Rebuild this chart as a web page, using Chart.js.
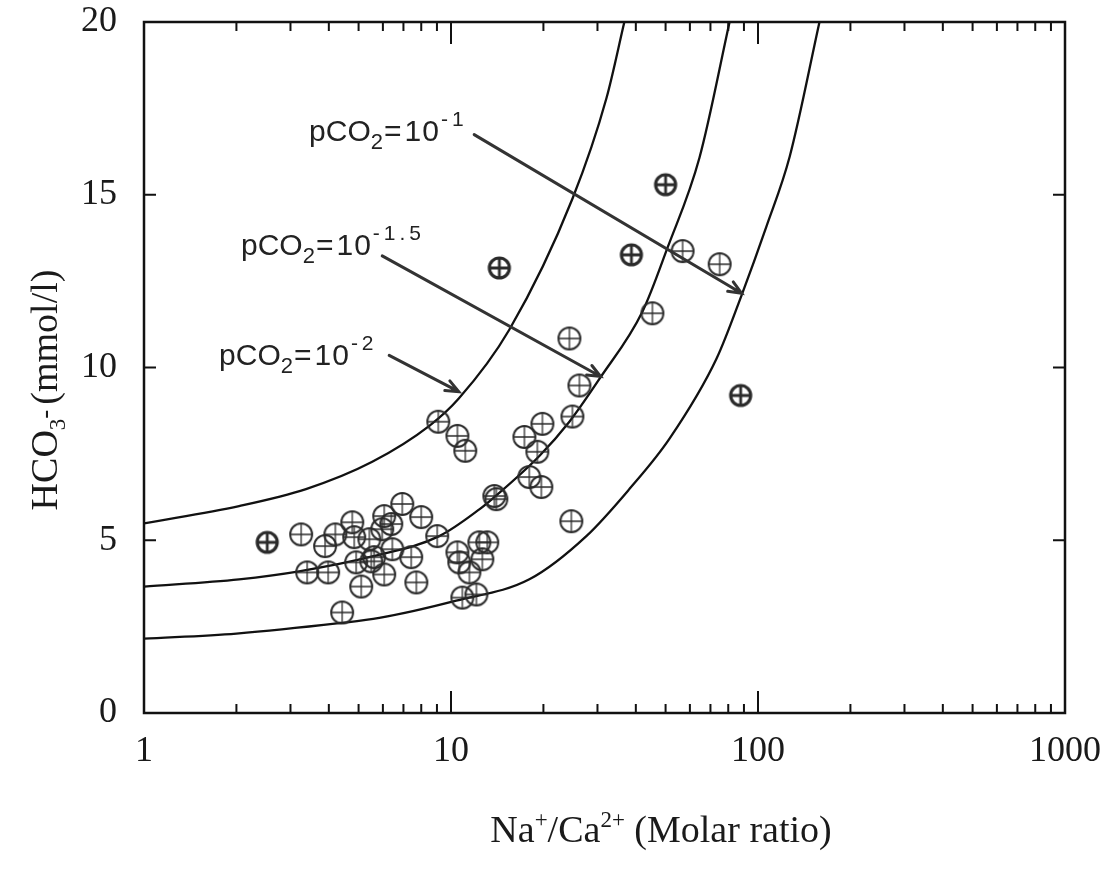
<!DOCTYPE html>
<html>
<head>
<meta charset="utf-8">
<script src="https://cdn.jsdelivr.net/npm/chart.js@4.4.1/dist/chart.umd.min.js"></script>
<style>
  body { margin: 0; background: #fff; }
  canvas { display: block; }
</style>
</head>
<body>
<canvas id="naCaChart" width="1109" height="874"></canvas>
<script>
// samples: Na/Ca molar ratio and HCO3 (mmol/l)
const sampleRatio = [3.25, 3.40, 3.89, 4.20, 3.98, 4.77, 4.84, 4.91, 5.10, 5.42, 5.50, 5.62, 5.97, 6.06,
    6.39, 6.94, 6.44, 6.06, 7.42, 7.71, 8.00, 9.02, 4.42, 9.09, 10.49, 11.13, 10.49, 10.64, 11.48,
    10.89, 12.10, 12.37, 13.13, 12.65, 13.84, 14.05, 17.34, 19.85, 19.11, 17.99, 19.69, 24.86,
    24.66, 24.31, 26.2, 45.3, 56.8, 75.0];
const sampleHco3 = [5.17, 4.07, 4.83, 5.17, 4.07, 5.52, 5.09, 4.36, 3.66, 5.03, 4.39, 4.51, 5.32, 5.70,
    5.47, 6.05, 4.74, 4.01, 4.51, 3.78, 5.67, 5.12, 2.91, 8.43, 8.02, 7.59, 4.65, 4.36, 4.07,
    3.34, 3.43, 4.94, 4.94, 4.45, 6.28, 6.19, 7.99, 8.37, 7.56, 6.83, 6.54, 8.58,
    5.55, 10.84, 9.48, 11.57, 13.37, 12.99];

// samples drawn with the heavier marker
const boldRatio = [2.52, 14.37, 38.7, 50.0, 87.8];
const boldHco3 = [4.94, 12.88, 13.26, 15.29, 9.19];

// calcite equilibrium curves
const curveA_ratio = [1, 2.04, 3.37, 5.54, 8.5, 10.6, 15.5, 24.9, 32.1, 36.7];   // pCO2 = 10^-2
const curveA_hco3 = [5.49, 5.99, 6.48, 7.27, 8.31, 9.1, 11.1, 14.9, 17.8, 20];
const curveB_ratio = [1, 2.04, 3.2, 5.54, 9.16, 12.4, 13.6, 19.4, 24.3, 30.5, 42.1, 50.7, 64.5, 80.8];  // pCO2 = 10^-1.5
const curveB_hco3 = [3.66, 3.87, 4.1, 4.53, 5.12, 5.9, 6.19, 7.44, 8.43, 9.68, 11.63, 13.46, 16.08, 20];
const curveC_ratio = [1, 2, 4.32, 5.84, 10.4, 18, 27.6, 38.1, 51.5, 73.3, 88.4, 106.7, 126.8, 158.6];  // pCO2 = 10^-1
const curveC_hco3 = [2.15, 2.3, 2.6, 2.75, 3.25, 3.87, 5.12, 6.48, 7.94, 10.26, 12.09, 14.1, 16.1, 20];

const xTicks = [1, 10, 100, 1000];
const yTicks = [0, 5, 10, 15, 20];

// curve labels: exponent digits, text anchor and arrow (from -> to) in data units
const labelExp = [['-', '1'], ['-', '1', '.', '5'], ['-', '2']];
const labelAt = [[3.45, 16.57], [2.07, 13.26], [1.756, 10.06]];
const arrowFrom = [[11.9, 16.74], [5.97, 13.23], [6.29, 10.35]];
const arrowTo = [[88.4, 12.15], [30.7, 9.74], [10.6, 9.30]];

function toXY(xs, ys) {
    return xs.map((x, i) => ({ x: x, y: ys[i] }));
}

function marker(r, lw, crossLw) {
    const c = document.createElement('canvas');
    const s = Math.ceil(2 * r + lw + 2);
    c.width = s;
    c.height = s;
    const g = c.getContext('2d');
    const m = s / 2;
    g.strokeStyle = '#2a2a2a';
    g.lineWidth = lw;
    g.beginPath();
    g.arc(m, m, r, 0, Math.PI * 2);
    g.stroke();
    g.lineWidth = crossLw;
    g.beginPath();
    g.moveTo(m - r, m); g.lineTo(m + r, m);
    g.moveTo(m, m - r); g.lineTo(m, m + r);
    g.stroke();
    return c;
}

function curve(xs, ys) {
    return {
        type: 'line',
        data: toXY(xs, ys),
        borderColor: '#111',
        borderWidth: 2.3,
        pointRadius: 0,
        cubicInterpolationMode: 'monotone',
        fill: false,
        order: 2
    };
}

// text with sub/superscript runs
function richText(ctx, parts, x, y) {
    parts.forEach(p => {
        ctx.font = p.font;
        ctx.fillText(p.t, x, y + (p.dy || 0));
        x += ctx.measureText(p.t).width + (p.gap || 0);
    });
    return x;
}

function richWidth(ctx, parts) {
    let w = 0;
    parts.forEach(p => {
        ctx.font = p.font;
        w += ctx.measureText(p.t).width + (p.gap || 0);
    });
    return w;
}

const decor = {
    id: 'decor',
    afterDatasetsDraw(chart) {
        const ctx = chart.ctx;
        const a = chart.chartArea;
        const sx = chart.scales.x;
        const sy = chart.scales.y;
        ctx.save();

        // frame
        ctx.strokeStyle = '#111';
        ctx.lineWidth = 2.5;
        ctx.strokeRect(a.left, a.top, a.right - a.left, a.bottom - a.top);

        // inward ticks on the log axis
        ctx.lineWidth = 2;
        for (let d = 1; d < 1000; d *= 10) {
            for (let k = 2; k <= 10; k++) {
                const v = d * k;
                if (v >= 1000) continue;
                const px = sx.getPixelForValue(v);
                const len = k === 10 ? 22 : 9;
                ctx.beginPath();
                ctx.moveTo(px, a.bottom); ctx.lineTo(px, a.bottom - len);
                ctx.moveTo(px, a.top); ctx.lineTo(px, a.top + len);
                ctx.stroke();
            }
        }
        [5, 10, 15].forEach(v => {
            const py = sy.getPixelForValue(v);
            ctx.beginPath();
            ctx.moveTo(a.left, py); ctx.lineTo(a.left + 12, py);
            ctx.moveTo(a.right, py); ctx.lineTo(a.right - 12, py);
            ctx.stroke();
        });

        // arrows
        ctx.strokeStyle = '#333';
        ctx.lineWidth = 3;
        ctx.lineCap = 'round';
        arrowFrom.forEach((f, i) => {
            const x0 = sx.getPixelForValue(f[0]), y0 = sy.getPixelForValue(f[1]);
            const x1 = sx.getPixelForValue(arrowTo[i][0]), y1 = sy.getPixelForValue(arrowTo[i][1]);
            const ang = Math.atan2(y1 - y0, x1 - x0);
            ctx.beginPath();
            ctx.moveTo(x0, y0); ctx.lineTo(x1, y1);
            ctx.moveTo(x1 - 14 * Math.cos(ang - 0.4), y1 - 14 * Math.sin(ang - 0.4));
            ctx.lineTo(x1, y1);
            ctx.lineTo(x1 - 14 * Math.cos(ang + 0.4), y1 - 14 * Math.sin(ang + 0.4));
            ctx.stroke();
        });

        // pCO2 labels
        ctx.fillStyle = '#222';
        ctx.textBaseline = 'alphabetic';
        ctx.textAlign = 'left';
        const sans = 'Liberation Sans, Arial, sans-serif';
        labelExp.forEach((e, i) => {
            const x = sx.getPixelForValue(labelAt[i][0]);
            const y = sy.getPixelForValue(labelAt[i][1]);
            const parts = [
                { t: 'pCO', font: '30px ' + sans },
                { t: '2', font: '22px ' + sans, dy: 8, gap: 1 },
                { t: '=', font: '30px ' + sans, gap: 3 },
                { t: '1', font: '30px ' + sans, gap: 1 },
                { t: '0', font: '30px ' + sans, gap: 2 }
            ];
            e.forEach(ch => parts.push({ t: ch, font: '21px ' + sans, dy: -15, gap: 4 }));
            richText(ctx, parts, x, y);
        });

        // axis titles
        const serif = 'Liberation Serif, Times New Roman, serif';
        ctx.fillStyle = '#1a1a1a';
        const xt = [
            { t: 'Na', font: '38px ' + serif },
            { t: '+', font: '23px ' + serif, dy: -15 },
            { t: '/Ca', font: '38px ' + serif },
            { t: '2+', font: '23px ' + serif, dy: -15 },
            { t: ' (Molar ratio)', font: '38px ' + serif }
        ];
        richText(ctx, xt, 661 - richWidth(ctx, xt) / 2, 842);

        const yt = [
            { t: 'HCO', font: '38px ' + serif },
            { t: '3', font: '23px ' + serif, dy: 8 },
            { t: '-', font: '27px ' + serif, dy: -4, gap: 5 },
            { t: '(mmol/l)', font: '38px ' + serif }
        ];
        ctx.translate(57, 390);
        ctx.rotate(-Math.PI / 2);
        richText(ctx, yt, -richWidth(ctx, yt) / 2, 0);
        ctx.restore();
    }
};

const data = {
    datasets: [
        {
            label: 'samples',
            data: toXY(sampleRatio, sampleHco3),
            pointStyle: marker(11, 1.9, 1.3),
            order: 1
        },
        {
            label: 'samples (bold)',
            data: toXY(boldRatio, boldHco3),
            pointStyle: marker(10, 3.2, 2.8),
            order: 1
        },
        curve(curveA_ratio, curveA_hco3),
        curve(curveB_ratio, curveB_hco3),
        curve(curveC_ratio, curveC_hco3)
    ]
};

const tickFont = { family: 'Liberation Serif, Times New Roman, serif', size: 36 };

const config = {
    type: 'scatter',
    data: data,
    options: {
        responsive: false,
        animation: false,
        devicePixelRatio: 1,
        layout: { padding: { top: 22, right: 44, left: 0, bottom: 0 } },
        plugins: {
            legend: { display: false },
            tooltip: { enabled: false }
        },
        scales: {
            x: {
                type: 'logarithmic',
                min: 1,
                max: 1000,
                grid: { display: false, drawTicks: false },
                border: { display: false },
                afterBuildTicks: s => { s.ticks = xTicks.map(v => ({ value: v })); },
                afterFit: s => {
                    s.height = 161;
                    s.paddingLeft = 0;
                    s.paddingRight = 0;
                },
                ticks: {
                    font: tickFont,
                    color: '#1a1a1a',
                    padding: 17,
                    maxRotation: 0,
                    autoSkip: false,
                    callback: v => String(v)
                }
            },
            y: {
                min: 0,
                max: 20,
                grid: { display: false, drawTicks: false },
                border: { display: false },
                afterBuildTicks: s => { s.ticks = yTicks.map(v => ({ value: v })); },
                afterFit: s => {
                    s.width = 144;
                    s.paddingTop = 0;
                    s.paddingBottom = 0;
                },
                ticks: {
                    font: tickFont,
                    color: '#1a1a1a',
                    padding: 27
                }
            }
        }
    },
    plugins: [decor]
};

new Chart(document.getElementById('naCaChart'), config);
</script>
</body>
</html>
